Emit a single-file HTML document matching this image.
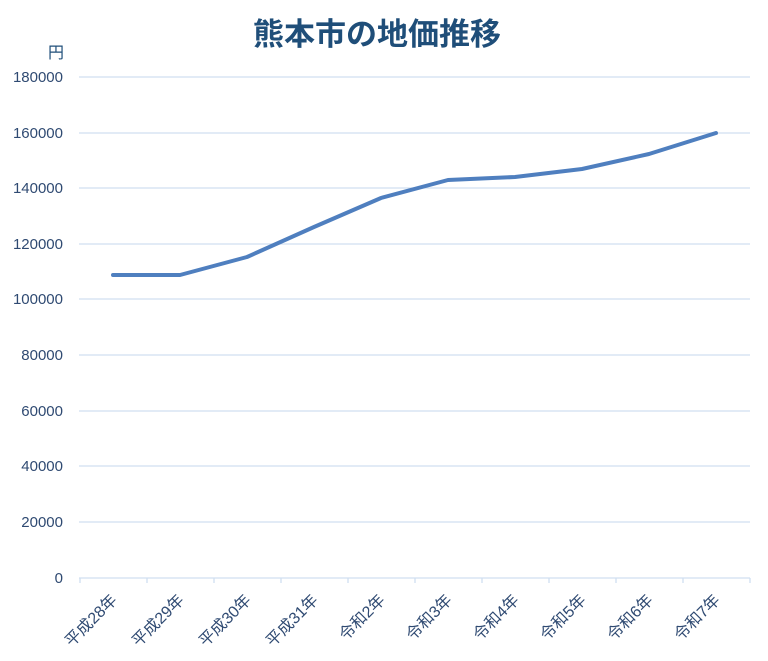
<!DOCTYPE html>
<html><head><meta charset="utf-8"><style>
html,body{margin:0;padding:0;background:#fff;}
svg{display:block;font-family:"Liberation Sans","Noto Sans CJK JP",sans-serif;}
</style></head><body>
<svg width="768" height="661" viewBox="0 0 768 661" xmlns="http://www.w3.org/2000/svg">
<text x="377" y="45" text-anchor="middle" font-size="31" font-weight="bold" fill="#1f4e79" font-family="'Noto Sans CJK JP',sans-serif">熊本市の地価推移</text>
<text x="56" y="58" text-anchor="middle" font-size="16" fill="#1f4e79" font-family="'Noto Sans CJK JP',sans-serif">円</text>
<g stroke="#d0dff0" stroke-width="1.3">
<line x1="79" x2="750" y1="77" y2="77"/>
<line x1="79" x2="750" y1="133" y2="133"/>
<line x1="79" x2="750" y1="188" y2="188"/>
<line x1="79" x2="750" y1="244" y2="244"/>
<line x1="79" x2="750" y1="299" y2="299"/>
<line x1="79" x2="750" y1="355" y2="355"/>
<line x1="79" x2="750" y1="411" y2="411"/>
<line x1="79" x2="750" y1="466" y2="466"/>
<line x1="79" x2="750" y1="522" y2="522"/>
<line x1="79" x2="750" y1="578" y2="578"/>
<line x1="80" x2="80" y1="578" y2="583"/><line x1="147" x2="147" y1="578" y2="583"/>
<line x1="214" x2="214" y1="578" y2="583"/><line x1="281" x2="281" y1="578" y2="583"/>
<line x1="348" x2="348" y1="578" y2="583"/><line x1="415" x2="415" y1="578" y2="583"/>
<line x1="482" x2="482" y1="578" y2="583"/><line x1="549" x2="549" y1="578" y2="583"/>
<line x1="616" x2="616" y1="578" y2="583"/><line x1="683" x2="683" y1="578" y2="583"/>
<line x1="750" x2="750" y1="578" y2="583"/>
</g>
<g font-size="15" fill="#2f4a72" text-anchor="end">
<text x="63" y="82">180000</text><text x="63" y="138">160000</text>
<text x="63" y="193">140000</text><text x="63" y="249">120000</text>
<text x="63" y="304">100000</text><text x="63" y="360">80000</text>
<text x="63" y="416">60000</text><text x="63" y="471">40000</text>
<text x="63" y="527">20000</text><text x="63" y="583">0</text>
</g>
<polyline fill="none" stroke="#4f7fbf" stroke-width="4" stroke-linejoin="round" stroke-linecap="round"
points="113,275 180,275 247,257 314,227 381,198 448,180 515,177 582,169 649,154 716,133"/>
<g font-size="16" fill="#2f4a72" text-anchor="end" font-family="'Liberation Sans','Noto Sans CJK JP',sans-serif">
<text transform="translate(118,601) rotate(-45)">平成28年</text>
<text transform="translate(185,601) rotate(-45)">平成29年</text>
<text transform="translate(252,601) rotate(-45)">平成30年</text>
<text transform="translate(319,601) rotate(-45)">平成31年</text>
<text transform="translate(386,601) rotate(-45)">令和2年</text>
<text transform="translate(453,601) rotate(-45)">令和3年</text>
<text transform="translate(520,601) rotate(-45)">令和4年</text>
<text transform="translate(587,601) rotate(-45)">令和5年</text>
<text transform="translate(654,601) rotate(-45)">令和6年</text>
<text transform="translate(721,601) rotate(-45)">令和7年</text>
</g>
</svg>
</body></html>
